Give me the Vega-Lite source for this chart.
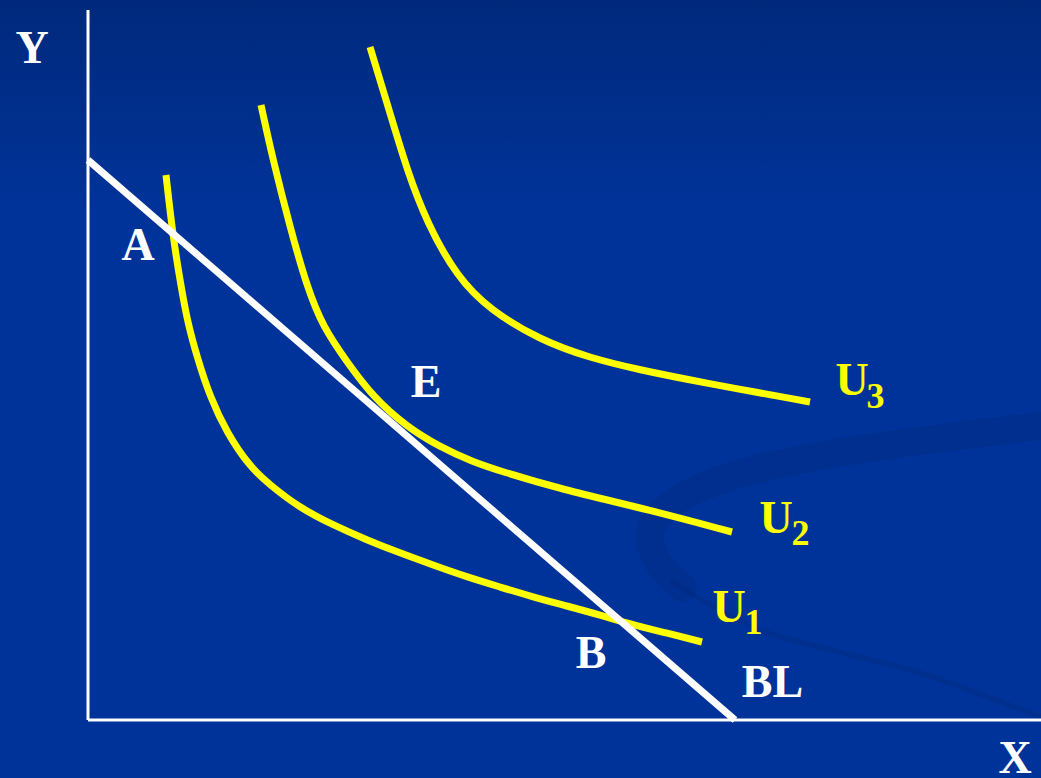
{
  "$schema": "https://vega.github.io/schema/vega-lite/v6.json",
  "width": 1041,
  "height": 778,
  "autosize": {"type": "none"},
  "padding": 0,
  "background": "#003399",
  "config": {"view": {"stroke": null}},
  "datasets": {
    "bg": [{"x": -88, "x2": 953, "y": -58, "y2": 720}],
    "swooshThick": [
      {"i": 0, "x": 960, "y": 295},
      {"i": 1, "x": 832, "y": 279},
      {"i": 2, "x": 732, "y": 264},
      {"i": 3, "x": 632, "y": 240},
      {"i": 4, "x": 582, "y": 215},
      {"i": 5, "x": 562, "y": 188},
      {"i": 6, "x": 570, "y": 158},
      {"i": 7, "x": 595, "y": 132}
    ],
    "swooshThin": [
      {"i": 0, "x": 585, "y": 138},
      {"i": 1, "x": 665, "y": 93},
      {"i": 2, "x": 762, "y": 65},
      {"i": 3, "x": 832, "y": 47},
      {"i": 4, "x": 960, "y": 0}
    ],
    "curves": [
      {"curve": "U1", "i": 0, "x": 78, "y": 545},
      {"curve": "U1", "i": 1, "x": 85, "y": 483},
      {"curve": "U1", "i": 2, "x": 92, "y": 440},
      {"curve": "U1", "i": 3, "x": 99, "y": 400},
      {"curve": "U1", "i": 4, "x": 109, "y": 363},
      {"curve": "U1", "i": 5, "x": 122, "y": 323},
      {"curve": "U1", "i": 6, "x": 139, "y": 287},
      {"curve": "U1", "i": 7, "x": 162, "y": 253},
      {"curve": "U1", "i": 8, "x": 182, "y": 235},
      {"curve": "U1", "i": 9, "x": 212, "y": 212},
      {"curve": "U1", "i": 10, "x": 245, "y": 195},
      {"curve": "U1", "i": 11, "x": 279, "y": 180},
      {"curve": "U1", "i": 12, "x": 312, "y": 167},
      {"curve": "U1", "i": 13, "x": 345, "y": 155},
      {"curve": "U1", "i": 14, "x": 379, "y": 143},
      {"curve": "U1", "i": 15, "x": 412, "y": 133},
      {"curve": "U1", "i": 16, "x": 445, "y": 123},
      {"curve": "U1", "i": 17, "x": 479, "y": 114},
      {"curve": "U1", "i": 18, "x": 512, "y": 105},
      {"curve": "U1", "i": 19, "x": 545, "y": 95},
      {"curve": "U1", "i": 20, "x": 579, "y": 87},
      {"curve": "U1", "i": 21, "x": 614, "y": 78},
      {"curve": "U2", "i": 0, "x": 173, "y": 615},
      {"curve": "U2", "i": 1, "x": 185, "y": 560},
      {"curve": "U2", "i": 2, "x": 202, "y": 493},
      {"curve": "U2", "i": 3, "x": 219, "y": 433},
      {"curve": "U2", "i": 4, "x": 235, "y": 393},
      {"curve": "U2", "i": 5, "x": 259, "y": 358},
      {"curve": "U2", "i": 6, "x": 285, "y": 323},
      {"curve": "U2", "i": 7, "x": 319, "y": 293},
      {"curve": "U2", "i": 8, "x": 352, "y": 273},
      {"curve": "U2", "i": 9, "x": 385, "y": 258},
      {"curve": "U2", "i": 10, "x": 412, "y": 249},
      {"curve": "U2", "i": 11, "x": 472, "y": 231},
      {"curve": "U2", "i": 12, "x": 562, "y": 210},
      {"curve": "U2", "i": 13, "x": 644, "y": 188},
      {"curve": "U3", "i": 0, "x": 282, "y": 673},
      {"curve": "U3", "i": 1, "x": 302, "y": 607},
      {"curve": "U3", "i": 2, "x": 319, "y": 550},
      {"curve": "U3", "i": 3, "x": 339, "y": 497},
      {"curve": "U3", "i": 4, "x": 369, "y": 443},
      {"curve": "U3", "i": 5, "x": 402, "y": 410},
      {"curve": "U3", "i": 6, "x": 452, "y": 380},
      {"curve": "U3", "i": 7, "x": 502, "y": 362},
      {"curve": "U3", "i": 8, "x": 552, "y": 350},
      {"curve": "U3", "i": 9, "x": 612, "y": 338},
      {"curve": "U3", "i": 10, "x": 722, "y": 318}
    ],
    "budget": [
      {"i": 0, "x": 0, "y": 560},
      {"i": 1, "x": 647, "y": 0}
    ],
    "axes": [
      {"axis": "Y", "x": 0, "y": 0, "x2": 0, "y2": 710},
      {"axis": "X", "x": 0, "y": 0, "x2": 953, "y2": 0}
    ],
    "whiteLabels": [
      {"t": "Y", "x": -56, "y": 657},
      {"t": "A", "x": 50, "y": 460},
      {"t": "E", "x": 338, "y": 323},
      {"t": "B", "x": 503, "y": 52},
      {"t": "BL", "x": 684.5, "y": 23},
      {"t": "X", "x": 927, "y": -53}
    ],
    "uLabels": [
      {"t": "U", "x": 764, "y": 325},
      {"t": "U", "x": 688, "y": 187},
      {"t": "U", "x": 641, "y": 98}
    ],
    "subLabels": [
      {"t": "3", "x": 787.5, "y": 312},
      {"t": "2", "x": 712.5, "y": 175},
      {"t": "1", "x": 665.5, "y": 86}
    ]
  },
  "encoding": {
    "x": {"field": "x", "type": "quantitative", "scale": {"domain": [-88, 953], "nice": false, "zero": false}, "axis": null},
    "y": {"field": "y", "type": "quantitative", "scale": {"domain": [-58, 720], "nice": false, "zero": false}, "axis": null}
  },
  "layer": [
    {
      "data": {"name": "bg"},
      "mark": {
        "type": "rect",
        "fill": {
          "gradient": "linear", "x1": 0, "y1": 0, "x2": 0, "y2": 1,
          "stops": [
            {"offset": 0, "color": "#00297c"},
            {"offset": 0.27, "color": "#003399"},
            {"offset": 1, "color": "#003399"}
          ]
        }
      },
      "encoding": {"x2": {"field": "x2"}, "y2": {"field": "y2"}}
    },
    {
      "data": {"name": "swooshThick"},
      "mark": {"type": "line", "interpolate": "catmull-rom", "stroke": "#00277a", "strokeWidth": 28, "opacity": 0.3, "strokeCap": "round"},
      "encoding": {"order": {"field": "i", "type": "quantitative"}}
    },
    {
      "data": {"name": "swooshThin"},
      "mark": {"type": "line", "interpolate": "catmull-rom", "stroke": "#00277a", "strokeWidth": 5, "opacity": 0.35, "strokeCap": "round"},
      "encoding": {"order": {"field": "i", "type": "quantitative"}}
    },
    {
      "data": {"name": "curves"},
      "mark": {"type": "line", "interpolate": "basis", "stroke": "#ffff00", "strokeWidth": 7, "strokeCap": "butt"},
      "encoding": {"detail": {"field": "curve", "type": "nominal"}, "order": {"field": "i", "type": "quantitative"}}
    },
    {
      "data": {"name": "budget"},
      "mark": {"type": "line", "stroke": "#ffffff", "strokeWidth": 7, "strokeCap": "butt"},
      "encoding": {"order": {"field": "i", "type": "quantitative"}}
    },
    {
      "data": {"name": "axes"},
      "mark": {"type": "rule", "stroke": "#ffffff", "strokeWidth": 3},
      "encoding": {"x2": {"field": "x2"}, "y2": {"field": "y2"}}
    },
    {
      "data": {"name": "whiteLabels"},
      "mark": {"type": "text", "font": "Liberation Serif", "fontWeight": "bold", "fontSize": 46, "fill": "#ffffff", "align": "center", "baseline": "alphabetic"},
      "encoding": {"text": {"field": "t"}}
    },
    {
      "data": {"name": "uLabels"},
      "mark": {"type": "text", "font": "Liberation Serif", "fontWeight": "bold", "fontSize": 46, "fill": "#ffff00", "align": "center", "baseline": "alphabetic"},
      "encoding": {"text": {"field": "t"}}
    },
    {
      "data": {"name": "subLabels"},
      "mark": {"type": "text", "font": "Liberation Serif", "fontWeight": "bold", "fontSize": 36, "fill": "#ffff00", "align": "center", "baseline": "alphabetic"},
      "encoding": {"text": {"field": "t"}}
    }
  ]
}
